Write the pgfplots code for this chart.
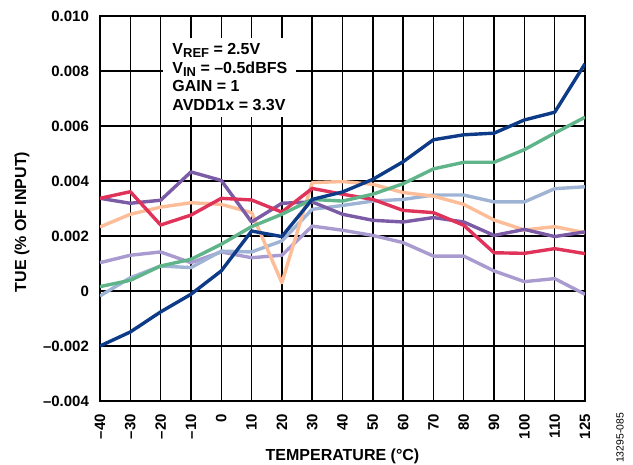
\documentclass[border=0pt]{standalone}
\usepackage{fontspec}
\setmainfont{Liberation Sans}
\usepackage{pgfplots}
\pgfplotsset{compat=1.18}
\usepackage{pgfplotstable}
\definecolor{cnavy}{HTML}{0D3B87}
\definecolor{cgreen}{HTML}{5FB48A}
\definecolor{cred}{HTML}{E0335A}
\definecolor{cpurple}{HTML}{7B5AA6}
\definecolor{cpeach}{HTML}{FCBD98}
\definecolor{clblue}{HTML}{9FB4D4}
\definecolor{clav}{HTML}{A99BD0}
\pgfplotstableread{
x navy green red purple peach lblue lav
0 -0.00200 0.00016 0.00337 0.00337 0.00233 -0.00018 0.00103
1 -0.00149 0.00039 0.00361 0.00319 0.00279 0.00048 0.00130
2 -0.00076 0.00091 0.00240 0.00330 0.00305 0.00091 0.00142
3 -0.00012 0.00115 0.00276 0.00433 0.00321 0.00085 0.00103
4 0.00073 0.00170 0.00337 0.00402 0.00315 0.00145 0.00142
5 0.00218 0.00234 0.00331 0.00251 0.00285 0.00142 0.00121
6 0.00198 0.00279 0.00287 0.00319 0.00030 0.00182 0.00130
7 0.00333 0.00333 0.00373 0.00324 0.00394 0.00297 0.00236
8 0.00360 0.00327 0.00352 0.00279 0.00398 0.00311 0.00221
9 0.00406 0.00352 0.00333 0.00257 0.00388 0.00327 0.00202
10 0.00470 0.00390 0.00293 0.00251 0.00358 0.00333 0.00176
11 0.00550 0.00444 0.00285 0.00267 0.00345 0.00349 0.00127
12 0.00568 0.00468 0.00239 0.00251 0.00315 0.00349 0.00127
13 0.00574 0.00468 0.00139 0.00202 0.00258 0.00324 0.00073
14 0.00622 0.00514 0.00137 0.00224 0.00222 0.00324 0.00034
15 0.00650 0.00574 0.00154 0.00198 0.00234 0.00372 0.00045
16 0.00826 0.00632 0.00136 0.00215 0.00212 0.00379 -0.00012
}\data
\begin{document}
\begin{tikzpicture}
\useasboundingbox (-50pt,-32pt) rectangle (266.5pt,200.5pt);
\begin{axis}[
  at={(0,0)}, anchor=south west,
  scale only axis, width=242.5pt, height=192.5pt,
  xmin=0, xmax=16, ymin=-0.004, ymax=0.010,
  xtick={0,...,16},
  xticklabels={–40,–30,–20,–10,0,10,20,30,40,50,60,70,80,90,100,110,125},
  ytick={-0.004,-0.002,0,0.002,0.004,0.006,0.008,0.010},
  yticklabels={–0.004,–0.002,0,0.002,0.004,0.006,0.008,0.010},
  scaled y ticks=false,
  major tick length=0pt,
  grid=major,
  major grid style={black, line width=0.7pt},
  axis line style={black, line width=0.9pt},
  tick label style={font=\fontsize{7.5}{9}\selectfont\bfseries},
  xticklabel style={rotate=90, anchor=east},
  xticklabel shift=3pt,
  yticklabel style={xshift=-2pt},
  xlabel={TEMPERATURE (°C)},
  ylabel={TUE (\% OF INPUT)},
  label style={font=\fontsize{8}{9.6}\selectfont\bfseries},
  xlabel style={at={(axis description cs:0.5,-0.145)}, anchor=center},
  ylabel style={at={(axis description cs:-0.161,0.465)}, anchor=center},
  every axis plot/.append style={line width=1.7pt, no markers, line join=round},
  clip=true,
]
\addplot[clav] table[x=x,y=lav]{\data};
\addplot[clblue] table[x=x,y=lblue]{\data};
\addplot[cpeach] table[x=x,y=peach]{\data};
\addplot[cpurple] table[x=x,y=purple]{\data};
\addplot[cred] table[x=x,y=red]{\data};
\addplot[cgreen] table[x=x,y=green]{\data};
\addplot[cnavy] table[x=x,y=navy]{\data};
\node[anchor=north west, fill=white, inner xsep=4.5pt, inner ysep=3pt, align=left,
  font=\fontsize{8}{9.3}\selectfont\bfseries] at (axis cs:2.08,0.00923)
  {V\raisebox{-1.4pt}{\fontsize{6.5}{7}\selectfont REF} = 2.5V\\
   V\raisebox{-1.4pt}{\fontsize{6.5}{7}\selectfont IN} = –0.5dBFS\\
   GAIN = 1\\
   AVDD1x = 3.3V};
\end{axis}
\node[rotate=90, font=\fontsize{5.2}{6}\selectfont, anchor=center, inner sep=0pt]
  at (260pt,-18.5pt) {13295-085};
\end{tikzpicture}
\end{document}
